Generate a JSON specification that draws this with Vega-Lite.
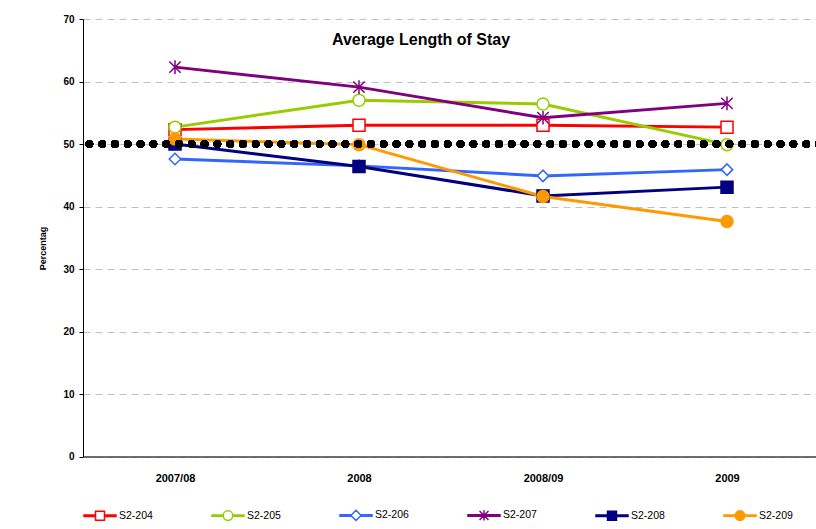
{
  "$schema": "https://vega.github.io/schema/vega-lite/v6.json",
  "autosize": "none",
  "width": 736,
  "height": 437.5,
  "padding": {"left": 83, "top": 19, "right": 0, "bottom": 73},
  "background": "white",
  "title": {"text": "Average Length of Stay", "fontSize": 16, "fontWeight": "bold", "font": "Liberation Sans", "color": "black", "anchor": "middle", "dx": -30, "dy": 34, "offset": 0},
  "config": {
    "font": "Liberation Sans",
    "view": {"stroke": null},
    "axis": {"labelFont": "Liberation Sans", "labelFontWeight": "bold", "labelColor": "black"}
  },
  "data": {"values": [
    {"year": "2007/08", "series": "S2-204", "value": 52.3},
    {"year": "2008", "series": "S2-204", "value": 53.0},
    {"year": "2008/09", "series": "S2-204", "value": 53.0},
    {"year": "2009", "series": "S2-204", "value": 52.7},
    {"year": "2007/08", "series": "S2-205", "value": 52.7},
    {"year": "2008", "series": "S2-205", "value": 57.0},
    {"year": "2008/09", "series": "S2-205", "value": 56.4},
    {"year": "2009", "series": "S2-205", "value": 49.9},
    {"year": "2007/08", "series": "S2-206", "value": 47.6},
    {"year": "2008", "series": "S2-206", "value": 46.5},
    {"year": "2008/09", "series": "S2-206", "value": 44.9},
    {"year": "2009", "series": "S2-206", "value": 45.9},
    {"year": "2007/08", "series": "S2-207", "value": 62.3},
    {"year": "2008", "series": "S2-207", "value": 59.1},
    {"year": "2008/09", "series": "S2-207", "value": 54.2},
    {"year": "2009", "series": "S2-207", "value": 56.5},
    {"year": "2007/08", "series": "S2-208", "value": 50.0},
    {"year": "2008", "series": "S2-208", "value": 46.4},
    {"year": "2008/09", "series": "S2-208", "value": 41.7},
    {"year": "2009", "series": "S2-208", "value": 43.1},
    {"year": "2007/08", "series": "S2-209", "value": 50.8},
    {"year": "2008", "series": "S2-209", "value": 49.9},
    {"year": "2008/09", "series": "S2-209", "value": 41.6},
    {"year": "2009", "series": "S2-209", "value": 37.6}
  ]},
  "layer": [
    {
      "mark": {"type": "line", "strokeWidth": 3},
      "encoding": {
        "x": {"field": "year", "type": "ordinal", "sort": ["2007/08", "2008", "2008/09", "2009"],
          "scale": {"type": "point", "padding": 0.5},
          "axis": {"title": null, "labelAngle": 0, "ticks": false, "labelPadding": 16, "labelFontSize": 11, "domainColor": "#404040", "domainWidth": 1.5, "grid": false}},
        "y": {"field": "value", "type": "quantitative",
          "scale": {"domain": [0, 70], "nice": false, "zero": true},
          "axis": {"values": [0, 10, 20, 30, 40, 50, 60, 70], "title": "Percentag", "titleFontSize": 9, "titleFontWeight": "bold", "titleColor": "black",
            "titleX": -41, "titleY": 229, "titleAngle": -90, "titleAlign": "center", "titleBaseline": "middle",
            "labelFontSize": 10, "labelPadding": 5, "tickSize": 4, "tickColor": "black", "domainColor": "black", "domainWidth": 1,
            "grid": true, "gridColor": "#c0c0c0", "gridDash": [7, 5], "gridWidth": 1}},
        "color": {"field": "series", "type": "nominal",
          "scale": {"domain": ["S2-204", "S2-205", "S2-206", "S2-207", "S2-208", "S2-209"], "range": ["#FF0000", "#99CC00", "#3366FF", "#800080", "#000080", "#FF9900"]},
          "legend": {"title": null, "orient": "bottom", "direction": "horizontal", "columns": 6, "columnPadding": 56, "offset": 14,
            "labelFont": "Liberation Sans", "labelFontSize": 10.5, "labelColor": "black", "labelOffset": 2,
            "symbolSize": 1024, "symbolStrokeWidth": 1.5,
            "encode": {"symbols": {"update": {
              "shape": {"signal": "['M-1,-0.044H-0.3V0.044H-1Z M0.3,-0.044H1V0.044H0.3Z M-0.28,-0.28H0.28V0.28H-0.28Z', 'M-1,-0.044H-0.3V0.044H-1Z M0.3,-0.044H1V0.044H0.3Z M-0.3,0A0.3,0.3 0 1,0 0.3,0A0.3,0.3 0 1,0 -0.3,0Z', 'M-1,-0.044H-0.32V0.044H-1Z M0.32,-0.044H1V0.044H0.32Z M-0.32,0L0,-0.32L0.32,0L0,0.32Z', 'M-1,-0.044H1V0.044H-1Z M-0.28,-0.28L0.28,0.28M-0.28,0.28L0.28,-0.28M0,-0.32V0.32', 'M-1,-0.044H-0.28V0.044H-1Z M0.28,-0.044H1V0.044H0.28Z M-0.28,-0.28H0.28V0.28H-0.28Z', 'M-1,-0.044H-0.3V0.044H-1Z M0.3,-0.044H1V0.044H0.3Z M-0.3,0A0.3,0.3 0 1,0 0.3,0A0.3,0.3 0 1,0 -0.3,0Z'][indexof(['S2-204','S2-205','S2-206','S2-207','S2-208','S2-209'], datum.value)]"},
              "fill": {"signal": "['white','white','white','#800080','#000080','#FF9900'][indexof(['S2-204','S2-205','S2-206','S2-207','S2-208','S2-209'], datum.value)]"},
              "stroke": {"signal": "['#FF0000','#99CC00','#3366FF','#800080','#000080','#FF9900'][indexof(['S2-204','S2-205','S2-206','S2-207','S2-208','S2-209'], datum.value)]"},
              "strokeWidth": {"value": 1.5},
              "size": {"value": 1024},
              "opacity": {"value": 1},
              "fillOpacity": {"value": 1},
              "strokeOpacity": {"value": 1}
            }}}}
        }
      }
    },
    {
      "transform": [{"filter": "datum.series === 'S2-204'"}],
      "mark": {"type": "point", "shape": "square", "size": 144, "strokeWidth": 1.5, "opacity": 1, "filled": false, "fill": "white", "fillOpacity": 1, "stroke": "#FF0000"},
      "encoding": {"x": {"field": "year", "type": "ordinal", "sort": ["2007/08", "2008", "2008/09", "2009"]}, "y": {"field": "value", "type": "quantitative"}}
    },
    {
      "transform": [{"filter": "datum.series === 'S2-205'"}],
      "mark": {"type": "point", "shape": "circle", "size": 144, "strokeWidth": 1.5, "opacity": 1, "filled": false, "fill": "white", "fillOpacity": 1, "stroke": "#99CC00"},
      "encoding": {"x": {"field": "year", "type": "ordinal", "sort": ["2007/08", "2008", "2008/09", "2009"]}, "y": {"field": "value", "type": "quantitative"}}
    },
    {
      "transform": [{"filter": "datum.series === 'S2-206'"}],
      "mark": {"type": "point", "shape": "diamond", "size": 130, "strokeWidth": 1.5, "opacity": 1, "filled": false, "fill": "white", "fillOpacity": 1, "stroke": "#3366FF"},
      "encoding": {"x": {"field": "year", "type": "ordinal", "sort": ["2007/08", "2008", "2008/09", "2009"]}, "y": {"field": "value", "type": "quantitative"}}
    },
    {
      "transform": [{"filter": "datum.series === 'S2-207'"}],
      "mark": {"type": "point", "shape": "M-1,-1L1,1M-1,1L1,-1M0,-1.2V1.2", "size": 130, "strokeWidth": 1.5, "opacity": 1, "filled": false, "stroke": "#800080"},
      "encoding": {"x": {"field": "year", "type": "ordinal", "sort": ["2007/08", "2008", "2008/09", "2009"]}, "y": {"field": "value", "type": "quantitative"}}
    },
    {
      "transform": [{"filter": "datum.series === 'S2-208'"}],
      "mark": {"type": "point", "shape": "square", "size": 144, "strokeWidth": 1.5, "opacity": 1, "filled": true, "fill": "#000080", "fillOpacity": 1, "stroke": "#000080"},
      "encoding": {"x": {"field": "year", "type": "ordinal", "sort": ["2007/08", "2008", "2008/09", "2009"]}, "y": {"field": "value", "type": "quantitative"}}
    },
    {
      "transform": [{"filter": "datum.series === 'S2-209'"}],
      "mark": {"type": "point", "shape": "circle", "size": 144, "strokeWidth": 1.5, "opacity": 1, "filled": true, "fill": "#FF9900", "fillOpacity": 1, "stroke": "#FF9900"},
      "encoding": {"x": {"field": "year", "type": "ordinal", "sort": ["2007/08", "2008", "2008/09", "2009"]}, "y": {"field": "value", "type": "quantitative"}}
    },
    {
      "mark": {"type": "rule", "color": "black", "strokeWidth": 7.5, "strokeCap": "round", "strokeDash": [0.1, 12.7]},
      "encoding": {"y": {"datum": 50}}
    }
  ]
}
